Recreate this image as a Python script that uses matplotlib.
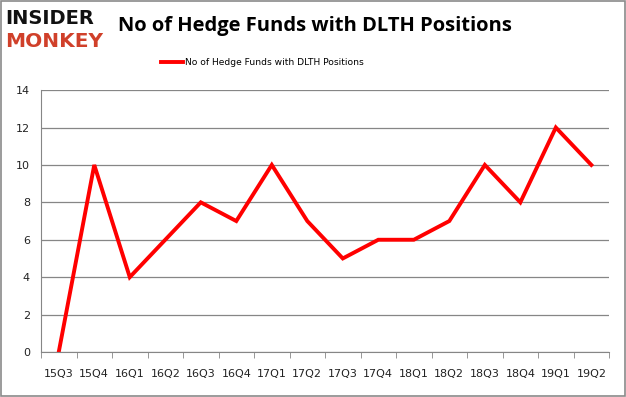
import matplotlib
matplotlib.use("Agg")
import matplotlib.pyplot as plt
from matplotlib.patches import Rectangle

quarters = ["15Q3", "15Q4", "16Q1", "16Q2", "16Q3", "16Q4", "17Q1", "17Q2",
            "17Q3", "17Q4", "18Q1", "18Q2", "18Q3", "18Q4", "19Q1", "19Q2"]
funds = [0, 10, 4, 6, 8, 7, 10, 7, 5, 6, 6, 7, 10, 8, 12, 10]
yticks = [0, 2, 4, 6, 8, 10, 12, 14]
series_name = "No of Hedge Funds with DLTH Positions"

fig = plt.figure(figsize=(6.26, 3.97), dpi=100)
fig.patch.set_facecolor("white")
fig.add_artist(Rectangle((0.0015, 0.002), 0.997, 0.995, transform=fig.transFigure,
                         fill=False, edgecolor="#8a8a8a", linewidth=1.2))

ax = fig.add_axes([0.0655, 0.1134, 0.9075, 0.6596])
x = list(range(len(quarters)))
ax.plot(x, funds, color="#ff0000", linewidth=2.8, solid_joinstyle="miter",
        label=series_name)
ax.set_xlim(-0.5, len(quarters) - 0.5)
ax.set_ylim(0, 14)
ax.set_yticks(yticks)
ax.set_yticklabels([str(v) for v in yticks])
ax.set_xticks(x)
ax.set_xticklabels(quarters)
ax.set_xticks([i - 0.5 for i in range(len(quarters) + 1)], minor=True)
ax.tick_params(axis="x", which="major", length=0, pad=12, labelsize=8, colors="#222222")
ax.tick_params(axis="x", which="minor", length=4, color="#868686")
ax.tick_params(axis="y", length=0, pad=8, labelsize=8, colors="#222222")
ax.grid(axis="y", color="#868686", linewidth=0.9)
ax.set_axisbelow(True)
for s in ["top", "right"]:
    ax.spines[s].set_visible(False)
ax.spines["left"].set_color("#868686")
ax.spines["bottom"].set_color("#868686")

fig.text(0.189, 0.935, series_name, fontsize=14.5, fontweight="bold",
         ha="left", va="center", family="Open Sans")
fig.text(0.008, 0.953, "INSIDER", fontsize=14, fontweight="heavy", color="#111111",
         ha="left", va="center", family="DejaVu Sans", stretch="expanded")
fig.text(0.008, 0.895, "MONKEY", fontsize=14.5, fontweight="heavy", color="#d0402a",
         ha="left", va="center", family="DejaVu Sans")

leg = fig.legend(loc="center", bbox_to_anchor=(0.419, 0.842), frameon=False,
                 fontsize=6.6, handlelength=2.4, handletextpad=0.3)

fig.savefig("out.png", dpi=100)
